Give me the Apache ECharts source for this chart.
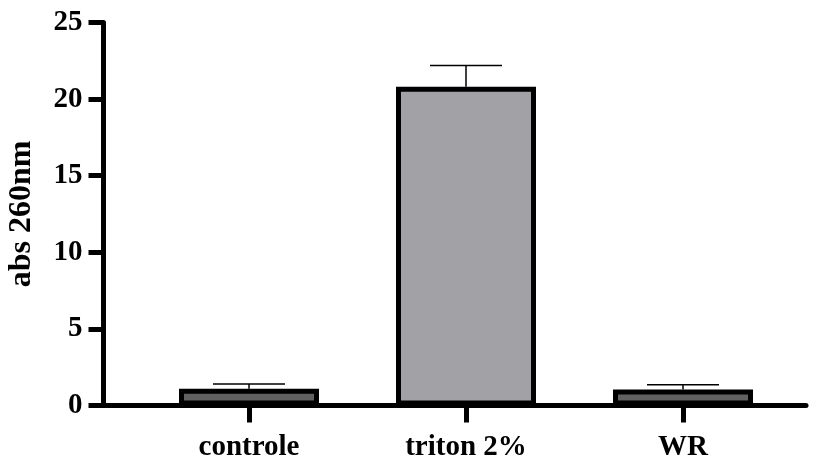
<!DOCTYPE html>
<html>
  <head>
    <meta charset="utf-8" />
    <title>abs 260nm</title>
    <script src="https://cdn.jsdelivr.net/npm/echarts@6/dist/echarts.min.js"></script>
    <style>
      html, body { margin: 0; padding: 0; background: #fff; }
    </style>
  </head>
  <body>
    <div id="main" style="width: 820px; height: 457px"></div>
    <script type="text/javascript">
      // data
      const categories = ['controle', 'triton 2%', 'WR'];
      const means = [1.1, 20.8, 1.05];
      const errors = [0.3, 1.4, 0.3];
      const barColors = ['#616161', '#a2a1a6', '#616161'];
      const yTicks = [0, 5, 10, 15, 20, 25];

      var chartDom = document.getElementById('main');
      var myChart = echarts.init(chartDom);
      var option;

      const font = 'Liberation Serif';
      const grids = { top: 22.5, bottom: 51.5 };

      option = {
        animation: false,
        textStyle: { fontFamily: font },
        grid: [
          // bars
          {
            left: 140.5, right: 28.5, top: grids.top, bottom: grids.bottom,
            containLabel: false, outerBoundsMode: 'none'
          },
          // frame (axis lines)
          {
            left: 103.5, right: 14, top: grids.top, bottom: grids.bottom,
            containLabel: false, outerBoundsMode: 'none'
          }
        ],
        xAxis: [
          {
            type: 'category',
            gridIndex: 0,
            data: categories,
            axisLine: { show: false },
            axisTick: {
              show: true,
              alignWithLabel: true,
              length: 17,
              lineStyle: { color: '#000', width: 5 }
            },
            axisLabel: {
              color: '#000',
              fontFamily: font,
              fontWeight: 'bold',
              fontSize: 29,
              margin: 28
            }
          },
          {
            type: 'value',
            gridIndex: 1,
            min: 0,
            max: 1,
            axisLine: { show: true, lineStyle: { color: '#000', width: 5 } },
            axisTick: { show: false },
            axisLabel: { show: false },
            splitLine: { show: false }
          }
        ],
        yAxis: [
          {
            type: 'value',
            gridIndex: 0,
            min: 0,
            max: 25,
            show: false
          },
          {
            type: 'value',
            gridIndex: 1,
            min: yTicks[0],
            max: yTicks[yTicks.length - 1],
            interval: 5,
            name: 'abs 260nm',
            nameLocation: 'middle',
            nameGap: 66,
            nameTextStyle: {
              color: '#000',
              fontFamily: font,
              fontWeight: 'bold',
              fontSize: 32
            },
            axisLine: { show: true, lineStyle: { color: '#000', width: 5 } },
            axisTick: { show: true, length: 15, lineStyle: { color: '#000', width: 5 } },
            axisLabel: {
              color: '#000',
              fontFamily: font,
              fontWeight: 'bold',
              fontSize: 29,
              margin: 21
            },
            splitLine: { show: false }
          }
        ],
        series: [
          {
            type: 'custom',
            xAxisIndex: 0,
            yAxisIndex: 0,
            z: 1,
            data: means.map(function (m, i) {
              return [i, m, m + errors[i]];
            }),
            renderItem: function (params, api) {
              var base = api.coord([api.value(0), api.value(1)]);
              var top = api.coord([api.value(0), api.value(2)]);
              var half = 36;
              return {
                type: 'group',
                children: [
                  {
                    type: 'line',
                    shape: { x1: base[0], y1: base[1], x2: top[0], y2: top[1] },
                    style: { stroke: '#000', lineWidth: 1.5 }
                  },
                  {
                    type: 'line',
                    shape: { x1: top[0] - half, y1: top[1], x2: top[0] + half, y2: top[1] },
                    style: { stroke: '#000', lineWidth: 1.5 }
                  }
                ]
              };
            }
          },
          {
            type: 'bar',
            xAxisIndex: 0,
            yAxisIndex: 0,
            z: 2,
            barWidth: 140,
            data: means.map(function (m, i) {
              return {
                value: m,
                itemStyle: { color: barColors[i], borderColor: '#000', borderWidth: 5 }
              };
            })
          }
        ]
      };

      option && myChart.setOption(option);
    </script>
  </body>
</html>
